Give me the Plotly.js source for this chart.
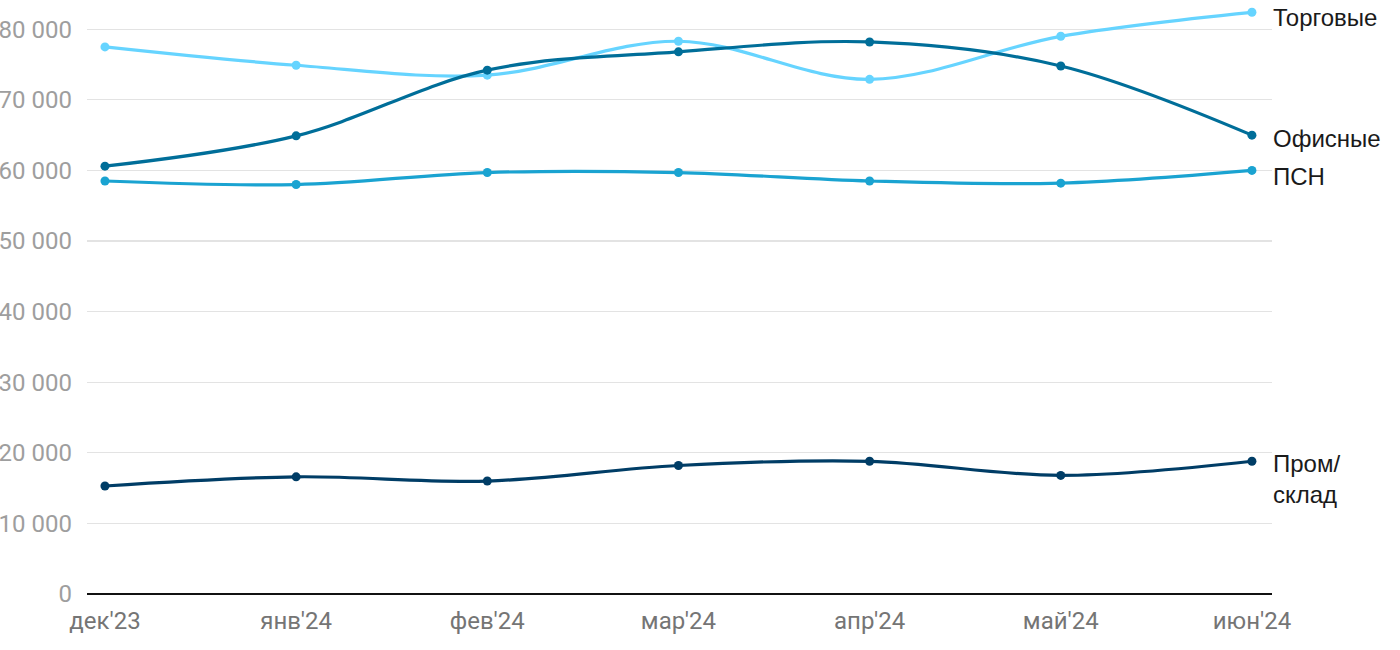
<!DOCTYPE html>
<html><head><meta charset="utf-8">
<script src="https://cdn.plot.ly/plotly-3.0.1.min.js"></script>
<style>html,body{margin:0;padding:0;background:#fff}#chart{width:1400px;height:650px}</style>
</head><body><div id="chart"></div>
<script>
const months = ["дек'23","янв'24","фев'24","мар'24","апр'24","май'24","июн'24"];
const torgovye = [77500, 74900, 73500, 78300, 72900, 79000, 82400];
const ofisnye  = [60600, 64900, 74200, 76800, 78200, 74800, 65000];
const psn      = [58500, 58000, 59700, 59700, 58500, 58200, 60000];
const promsklad= [15300, 16600, 16000, 18200, 18800, 16800, 18800];
const seriesNames = ["Торговые","Офисные","ПСН","Пром/<br>склад"];
const seriesData = [torgovye, ofisnye, psn, promsklad];
const colors = ["#66d4ff","#006e99","#1aa3d1","#003d66"];
const labelShift = [-5, -3, -6, -18];

const xi = months.map((m,i)=>i);
const traces = seriesData.map((d,k)=>({
  x: xi, y: d, type:'scatter', mode:'lines+markers',
  line:{color:colors[k], width:3.2, shape:'spline', smoothing:1},
  marker:{color:colors[k], size:9},
  cliponaxis:false, showlegend:false, hoverinfo:'skip'
}));
const ordered = [traces[2], traces[0], traces[1], traces[3]];

const annotations = seriesData.map((d,k)=>({
  x: xi[xi.length-1], y: d[d.length-1], xref:'x', yref:'y',
  text: seriesNames[k], showarrow:false, xanchor:'left', yanchor:'middle', align:'left',
  xshift: 19, yshift: labelShift[k],
  font:{family:'"Liberation Sans", Arial, sans-serif', size:24, color:'#1a1a1a'}
}));

const layout = {
  width:1400, height:650,
  margin:{l:87, r:128, t:1, b:56},
  paper_bgcolor:'#fff', plot_bgcolor:'#fff',
  xaxis:{
    tickmode:'array', tickvals:xi, ticktext:months,
    range:[-0.094, 6.105], showgrid:false, zeroline:false, showline:false,
    ticks:'', ticklabelstandoff:10,
    tickfont:{family:'Roboto', size:24, color:'#757575'}, fixedrange:true
  },
  yaxis:{
    range:[0, 84000], dtick:10000, tick0:0, tickformat:',d',
    showgrid:true, gridcolor:'#e3e3e3', gridwidth:1.3,
    zeroline:true, zerolinecolor:'#111', zerolinewidth:2,
    ticks:'', ticklabelstandoff:14,
    tickfont:{family:'Roboto', size:24, color:'#9e9e9e'}, fixedrange:true
  },
  separators:', ',
  annotations: annotations
};
Plotly.newPlot('chart', ordered, layout, {displayModeBar:false, staticPlot:true});
</script></body></html>
